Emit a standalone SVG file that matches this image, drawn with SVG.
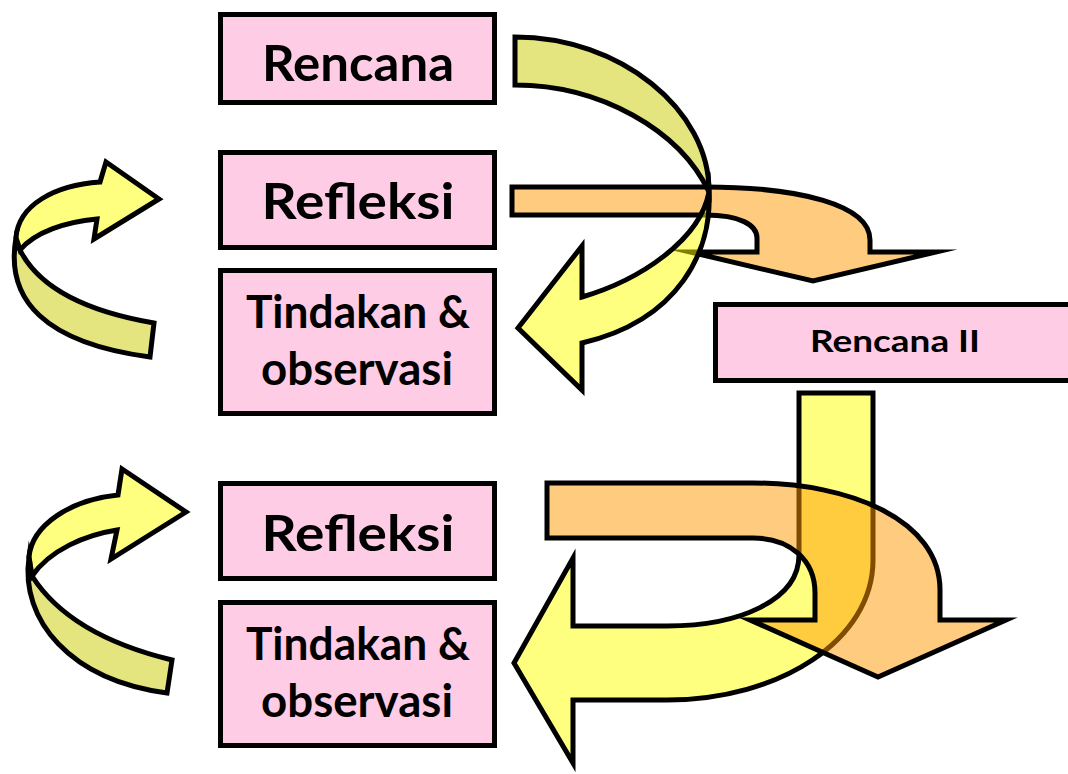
<svg xmlns="http://www.w3.org/2000/svg" width="1068" height="774" viewBox="0 0 1068 774">
  <style>
    .box { fill: #FFCCE6; stroke: #000; stroke-width: 5; }
    .lbl { font-family: Lato, "Open Sans", "DejaVu Sans", sans-serif; font-weight: 700; fill: #000; text-anchor: middle; }
    .big { font-size: 50px; }
    .mid { font-size: 46px; }
    .sml { font-size: 31px; }
    .arr { stroke: #000; stroke-width: 5; stroke-linejoin: miter; stroke-miterlimit: 10; fill-opacity: 0.5; }
    .yel { fill: #FFFF00; }
    .bak { fill: #CCCC00; }
    .org { fill: #FF9900; }
  </style>
  <rect width="1068" height="774" fill="#fff"/>

  <g id="connectors">
    <!-- Refleksi -> Rencana II (orange bent arrow, upper) -->
    <path class="arr org" d="M512,187 L705,187 C800,187 870,205 870,240 L870,252 L936,252 L813,281 L690,252 L757,252 L757,238 C757,225 740,215 705,215 L512,215 Z"/>
    <!-- Rencana -> Tindakan (twisted U-turn arrow): back face then front face -->
    <path class="arr bak" d="M515,37 C620,37 710,110 709,192 C680,130 600,85 515,85 Z"/>
    <path class="arr yel" d="M709,192 C712,250 680,320 582,343 L582,390 L518,328 L582,246 L582,297 C640,280 700,240 709,192 Z"/>
    <!-- Tindakan -> Refleksi loops on the left -->
    <path class="arr bak" d="M16,238 C5,300 45,343 150,357 L154,323 C90,312 40,290 20,250 Z"/>
    <path class="arr yel" d="M16,238 C18,205 55,185 100,182 L106,162 L159,199 L94,239 L97,219 C65,222 35,232 20,250 Z"/>
    <path class="arr bak" d="M29,557 C20,620 70,680 167,693 L172,660 C110,645 60,620 32,576 Z"/>
    <path class="arr yel" d="M29,557 C32,525 70,500 118,495 L122,469 L186,512 L111,559 L117,530 C85,535 50,550 32,576 Z"/>
    <!-- Rencana II -> Tindakan (L-shaped arrow down and left) -->
    <path class="arr yel" d="M799,393 L873,393 L873,560 C873,640 780,700 667,700 L573,700 L573,763 L514,663 L573,558 L573,626 L667,626 C740,626 799,600 799,555 Z"/>
    <!-- Refleksi -> onward (orange bent arrow, lower) -->
    <path class="arr org" d="M547,483 L753,483 C850,483 940,520 940,590 L940,620 L1006,620 L878,677 L750,620 L815,620 L815,593 C815,560 790,538 753,538 L547,538 Z"/>
  </g>

  <g id="rencana">
    <rect class="box" x="220.5" y="14.5" width="274" height="88"/>
    <text class="lbl big" x="358" y="81" textLength="192" lengthAdjust="spacingAndGlyphs">Rencana</text>
  </g>
  <g id="refleksi-1">
    <rect class="box" x="220.5" y="152.5" width="274" height="95"/>
    <text class="lbl big" x="358" y="219" textLength="193" lengthAdjust="spacingAndGlyphs">Refleksi</text>
  </g>
  <g id="tindakan-1">
    <rect class="box" x="220.5" y="270.5" width="274" height="143"/>
    <text class="lbl mid" x="358" y="328" textLength="224" lengthAdjust="spacingAndGlyphs">Tindakan &amp;</text>
    <text class="lbl mid" x="357" y="385" textLength="192" lengthAdjust="spacingAndGlyphs">observasi</text>
  </g>
  <g id="rencana-2">
    <rect class="box" x="715.5" y="304.5" width="360" height="76"/>
    <text class="lbl sml" x="895" y="352" textLength="170" lengthAdjust="spacingAndGlyphs">Rencana II</text>
  </g>
  <g id="refleksi-2">
    <rect class="box" x="220.5" y="483.5" width="274" height="95"/>
    <text class="lbl big" x="358" y="551" textLength="193" lengthAdjust="spacingAndGlyphs">Refleksi</text>
  </g>
  <g id="tindakan-2">
    <rect class="box" x="220.5" y="602.5" width="274" height="143"/>
    <text class="lbl mid" x="358" y="660" textLength="224" lengthAdjust="spacingAndGlyphs">Tindakan &amp;</text>
    <text class="lbl mid" x="357" y="717" textLength="192" lengthAdjust="spacingAndGlyphs">observasi</text>
  </g>
</svg>
